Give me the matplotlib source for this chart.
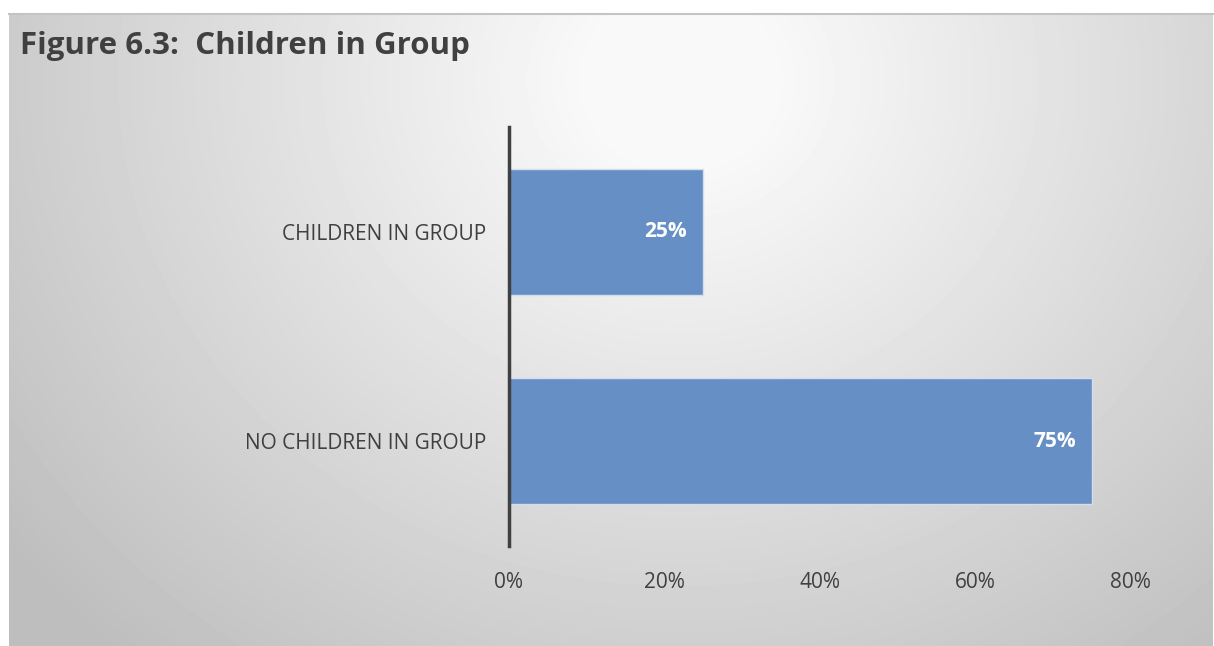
import numpy as np
import matplotlib.pyplot as plt
from matplotlib.ticker import PercentFormatter
from matplotlib.lines import Line2D

# data
categories = ["NO CHILDREN IN GROUP", "CHILDREN IN GROUP"]
shares = [0.75, 0.25]
x_ticks = [0.0, 0.2, 0.4, 0.6, 0.8]
title = "Figure 6.3:  Children in Group"

plt.rcParams['font.family'] = ['Open Sans', 'DejaVu Sans']

W, H = 1214, 646
fig = plt.figure(figsize=(W / 100, H / 100), dpi=100)
fig.patch.set_facecolor('white')

# radial grey gradient for the chart area
bx0, by0, bx1, by1 = 9, 14, 1213, 646
bg = fig.add_axes([bx0 / W, 0, (bx1 - bx0) / W, (by1 - by0) / H])
yy, xx = np.mgrid[by0:by1, bx0:bx1]
r = np.hypot((xx - 680) / 1.0, (yy - 80) / 0.9)
shade = np.clip(256 - 0.078 * r, 190, 249) / 255.0
bg.imshow(shade, cmap='gray', vmin=0, vmax=1, aspect='auto',
          extent=[0, 1, 0, 1], origin='upper', interpolation='bilinear')
bg.set_axis_off()
fig.add_artist(Line2D([bx0 / W, bx1 / W], [1 - by0 / H, 1 - by0 / H],
                      color='#c4c4c4', lw=1.5, transform=fig.transFigure))

fig.text(20 / W, 1 - 54 / H, title, fontsize=22.5, fontweight='bold',
         color='#404040', ha='left', va='baseline')

ax = fig.add_axes([508.5 / W, 1 - 546 / H, (1130.5 - 508.5) / W, (546 - 127) / H])
ax.patch.set_visible(False)
ypos = np.arange(len(categories))
bars = ax.barh(ypos, shares, height=0.6, color='#6690C5',
               edgecolor='#d3deec', linewidth=1)
for y, v in zip(ypos, shares):
    ax.annotate(f"{v:.0%}", xy=(v, y), xytext=(-16, 0), textcoords='offset pixels',
                ha='right', va='center', color='white', fontsize=15, fontweight='bold')

ax.set_xlim(0, 0.8)
ax.set_ylim(-0.5, 1.5)
ax.set_xticks(x_ticks)
ax.xaxis.set_major_formatter(PercentFormatter(1.0, decimals=0))
ax.set_yticks(ypos)
ax.set_yticklabels(categories)
for s in ['top', 'right', 'bottom']:
    ax.spines[s].set_visible(False)
ax.spines['left'].set_color('#404040')
ax.spines['left'].set_linewidth(2.5)
ax.tick_params(axis='both', length=0, labelsize=15, labelcolor='#404040')
ax.tick_params(axis='x', pad=19)
ax.tick_params(axis='y', pad=16)

fig.savefig('out.png', dpi=100)
